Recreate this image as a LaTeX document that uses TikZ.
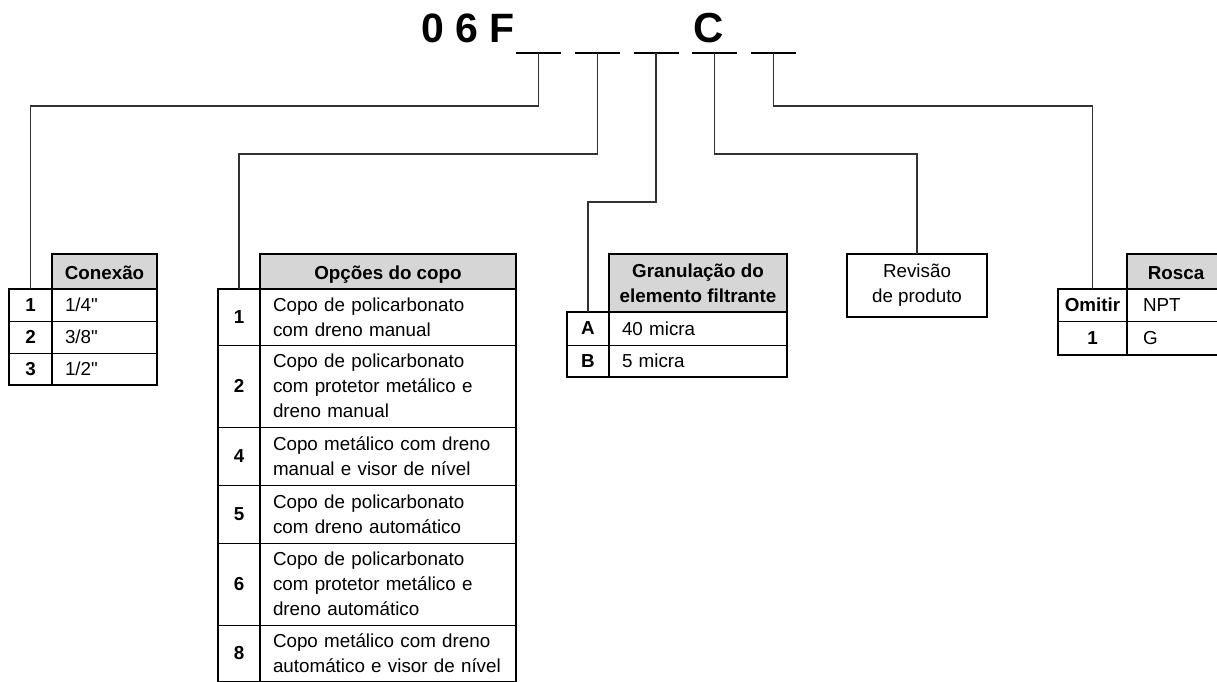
\documentclass[tikz,border=0pt]{standalone}
\usepackage{fontspec}
\newfontfamily\arial{Liberation Sans}
\usetikzlibrary{positioning}
\definecolor{headgray}{RGB}{214,214,214}
\definecolor{linkgray}{RGB}{50,50,50}

\begin{document}
\begin{tikzpicture}[x=1pt, y=-1pt,
    font=\arial\fontsize{18.8}{25}\selectfont,
    frame/.style={line width=2pt},
    link/.style={line width=1.2pt, draw=linkgray},
    head/.style={draw, frame, fill=headgray, font=\arial\bfseries\fontsize{18.8}{25}\selectfont,
        align=center, inner sep=0pt, outer sep=0pt, anchor=north west},
    headone/.style={head, text height=15pt, text depth=0pt},
    numcell/.style={draw, line width=1pt, font=\arial\bfseries\fontsize{18.8}{25}\selectfont,
        inner sep=0pt, outer sep=0pt, anchor=north west},
    txtcell/.style={draw, line width=1pt, align=left, inner xsep=13pt, inner ysep=0pt, outer sep=0pt}]
    \useasboundingbox (0,0) rectangle (1217,681);
    \clip (0,0) rectangle (1217,681);
    % Code
    \node[font=\arial\bfseries\fontsize{41}{41}\selectfont, inner sep=0pt, anchor=base west] (code) at (421,42) {0 6 F};
    \node[font=\arial\bfseries\fontsize{42}{42}\selectfont, inner sep=0pt, anchor=base] (codeC) at (709,42) {C};
    \foreach \i in {1,...,5} {
        \coordinate (s\i) at (538.5+58.75*\i-58.75, 53);
        \draw[frame] ([xshift=-22.5pt]s\i) -- ([xshift=22.5pt]s\i);
    }
    % Conexao
    \node[headone, minimum width=105pt, minimum height=35pt] (conH) at (52,254) {Conexão};
    \foreach \n/\y/\t in {1/289/{1/4"}, 2/321/{3/8"}, 3/353/{1/2"}} {
        \node[numcell, minimum width=43pt, minimum height=32pt] (con-n\n) at (9,\y) {\n};
        \node[txtcell, text width=79pt, minimum height=32pt, right=0pt of con-n\n] (con-t\n) {\t};
    }
    \draw[frame] (con-n1.north west) rectangle (con-t3.south east);
    \draw[frame] (con-n1.north east) -- (con-n3.south east);
    % Copo
    \node[headone, minimum width=256pt, minimum height=35pt] (cupH) at (260,254) {Opções do copo};
    \foreach \n/\y/\h/\t in {1/289/56/{Copo de policarbonato\\com dreno manual},
        2/345/82/{Copo de policarbonato\\com protetor metálico e\\dreno manual},
        4/427/58/{Copo metálico com dreno\\manual e visor de nível},
        5/485/58/{Copo de policarbonato\\com dreno automático},
        6/543/82/{Copo de policarbonato\\com protetor metálico e\\dreno automático},
        8/625/57/{Copo metálico com dreno\\automático e visor de nível}} {
        \node[numcell, minimum width=42pt, minimum height=\h pt] (cup-n\n) at (218,\y) {\n};
        \node[txtcell, text width=230pt, minimum height=\h pt, right=0pt of cup-n\n] (cup-t\n) {\t};
    }
    \draw[frame] (cup-n1.north west) rectangle (cup-t8.south east);
    \draw[frame] (cup-n1.north east) -- (cup-n8.south east);
    % Granulacao
    \node[head, minimum width=178pt, minimum height=58pt] (graH) at (609,254) {Granulação do\\elemento filtrante};
    \foreach \n/\y/\h/\t in {A/312/33/{40 micra}, B/345/32/{5 micra}} {
        \node[numcell, minimum width=42pt, minimum height=\h pt] (gra-n\n) at (567,\y) {\n};
        \node[txtcell, text width=152pt, minimum height=\h pt, right=0pt of gra-n\n] (gra-t\n) {\t};
    }
    \draw[frame] (gra-nA.north west) rectangle (gra-tB.south east);
    \draw[frame] (gra-nA.north east) -- (gra-nB.south east);
    % Revisao
    \node[draw, frame, minimum width=140pt, minimum height=63pt, align=center, inner sep=0pt,
        outer sep=0pt, anchor=north west] (rev) at (847,254) {Revisão\\de produto};
    % Rosca
    \node[headone, minimum width=98pt, minimum height=35pt] (rosH) at (1127,254) {Rosca};
    \foreach \n/\y/\h/\t in {Omitir/289/32/NPT, 1/321/34/G} {
        \node[numcell, minimum width=69pt, minimum height=\h pt] (ros-n\n) at (1058,\y) {\n};
        \node[txtcell, inner xsep=16pt, text width=66pt, minimum height=\h pt, right=0pt of ros-n\n] (ros-t\n) {\t};
    }
    \draw[frame] (ros-nOmitir.north west) rectangle (ros-t1.south east);
    \draw[frame] (ros-nOmitir.north east) -- (ros-n1.south east);
    % Links
    \draw[link] (s1) -- ++(0,53) -| (con-n1.north);
    \draw[link] (s2) -- ++(0,101) -| (cup-n1.north);
    \draw[link] (s3) -- ++(0,149) -| (gra-nA.north);
    \draw[link] (s4) -- ++(0,101) -| (rev.north);
    \draw[link] (s5) -- ++(0,53) -| (ros-nOmitir.north);
\end{tikzpicture}
\end{document}
